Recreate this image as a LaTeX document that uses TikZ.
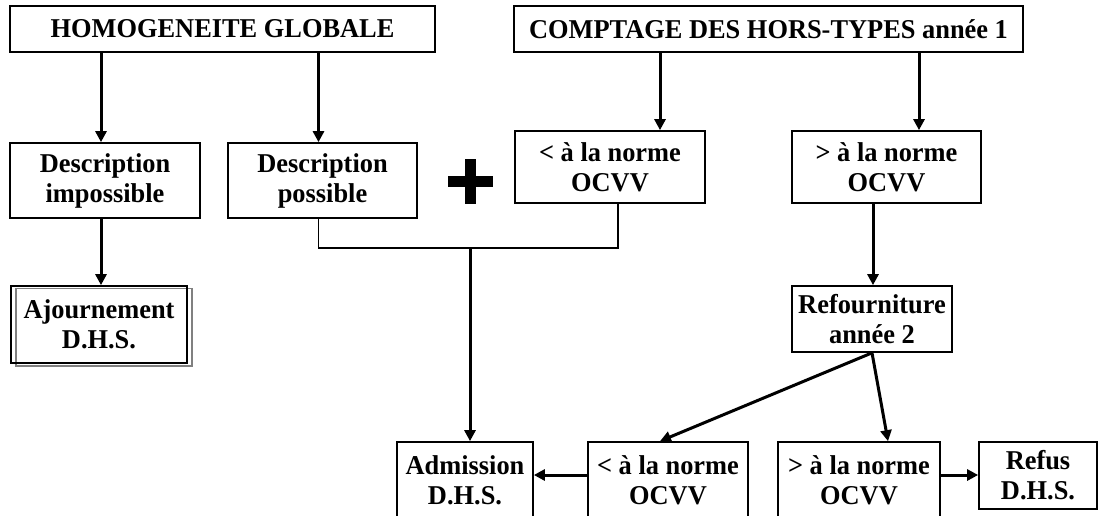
\documentclass[tikz,border=0pt]{standalone}
\usepackage{fontspec}
\setmainfont{Liberation Serif}[FakeStretch=0.97]
\usetikzlibrary{arrows.meta}
\begin{document}
\begin{tikzpicture}[x=1pt,y=-1pt,
  box/.style={draw, line width=1.7pt, inner sep=0pt, align=center,
    font=\fontsize{27.2}{30}\selectfont\bfseries},
  arr/.style={line width=3pt, -{Triangle[length=11pt,width=11pt]}},
  link/.style={line width=1.7pt}]
\useasboundingbox (0,0) rectangle (1098,515);
\clip (0,0) rectangle (1098,515);
% column / row helpers
\coordinate (c1) at (101,0);
\coordinate (c2) at (318.5,0);
\coordinate (c3) at (660,0);
\coordinate (c4) at (919,0);
\coordinate (c5) at (873,0);
\coordinate (c6) at (618,0);
\coordinate (c8) at (888,0);
\coordinate (r1) at (0,475);
\coordinate (m) at (470,248);
% shadow of Ajournement box
\draw[gray, line width=1.5pt] (16,288.5) rectangle (192,366);
% nodes
\node[box, minimum width=425pt, minimum height=46pt] (hg) at (222.5,29) {HOMOGENEITE GLOBALE};
\node[box, minimum width=509pt, minimum height=46pt] (cp) at (768.5,29) {COMPTAGE DES HORS-TYPES année 1};
\node[box, minimum width=190pt, minimum height=75pt] (di) at (105,180.5) {Description\\impossible};
\node[box, minimum width=189pt, minimum height=75pt] (dp) at (322.5,180.5) {Description\\possible};
\node[box, minimum width=190pt, minimum height=72pt] (lt1) at (610,167) {< à la norme\\OCVV};
\node[box, minimum width=189pt, minimum height=72pt] (gt1) at (886.5,167) {> à la norme\\OCVV};
\node[box, minimum width=176.5pt, minimum height=77pt] (aj) at (99,324.5) {Ajournement\\D.H.S.};
\node[box, minimum width=160pt, minimum height=66pt] (rf) at (872,319) {Refourniture\\année 2};
\node[box, minimum width=136pt, minimum height=76pt] (ad) at (465,480) {Admission\\D.H.S.};
\node[box, minimum width=160pt, minimum height=76pt] (lt2) at (668,480) {< à la norme\\OCVV};
\node[box, minimum width=162pt, minimum height=76pt] (gt2) at (859,480) {> à la norme\\OCVV};
\node[box, minimum width=118pt, minimum height=67pt] (rs) at (1038,475.5) {Refus\\D.H.S.};
% plus sign
\fill (447.5,175.5) rectangle (492.5,186.5);
\fill (464.5,158.5) rectangle (475.5,203.5);
% connectors
\draw[arr] (hg.south -| c1) -- (di.north -| c1);
\draw[arr] (hg.south -| c2) -- (dp.north -| c2);
\draw[arr] (cp.south -| c3) -- (lt1.north -| c3);
\draw[arr] (cp.south -| c4) -- (gt1.north -| c4);
\draw[arr] (di.south -| c1) -- (aj.north -| c1);
\draw[link] (dp.south -| c2) |- (m) -| (lt1.south -| c6);
\draw[arr] (m) -- (ad.north -| m);
\draw[arr] (gt1.south -| c5) -- (rf.north -| c5);
\draw[arr] (rf.south) -- (lt2.north -| c3);
\draw[arr] (rf.south) -- (gt2.north -| c8);
\draw[arr] (lt2.west |- r1) -- (ad.east |- r1);
\draw[arr] (gt2.east |- r1) -- (rs.west |- r1);
\end{tikzpicture}
\end{document}
